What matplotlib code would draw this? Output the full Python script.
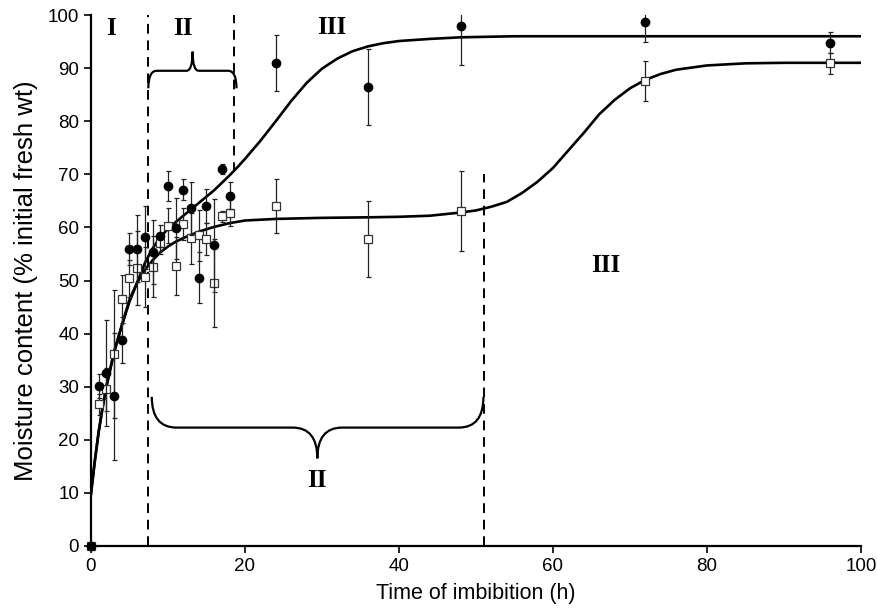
import numpy as np
import matplotlib
matplotlib.use('Agg')
import matplotlib.pyplot as plt
from matplotlib.path import Path
from matplotlib.patches import PathPatch

# Sampling times (h)
t_obs = [0, 1, 2, 3, 4, 5, 6, 7, 8, 9, 10, 11, 12, 13, 14, 15, 16, 17, 18, 24, 36, 48, 72, 96]

# Filled circles
circ_y = [0, 30.1, 32.6, 28.2, 38.8, 56.0, 56.0, 58.1, 55.4, 58.4, 67.8, 59.8, 67.1, 63.6,
          50.5, 64.1, 56.6, 71.0, 66.0, 90.9, 86.4, 98.0, 98.7, 94.8]
circ_err = [0, 2.3, 10, 12, 4.4, 3, 6.3, 6, 6, 2, 2.8, 5.8, 2, 5, 4.8, 3.2, 8.7, 1, 2.6,
            5.3, 7.2, 7.5, 3.7, 2]

# Open squares
sq_y = [0, 26.7, 29.5, 36.2, 46.5, 50.4, 52.4, 50.7, 52.6, 57.0, 60.3, 52.7, 60.6, 58.0,
        58.5, 57.8, 49.6, 62.1, 62.8, 64.1, 57.8, 63.1, 87.6, 90.9]
sq_err = [0, 2, 4, 12, 4.5, 3.5, 7, 5.6, 5.7, 2, 3.3, 5.4, 3, 4.8, 4.8, 3, 8.3, 1, 2.6,
          5.1, 7.2, 7.5, 3.8, 2]

# Fitted curves
fit_up_x = [0, 0.5, 1, 1.5, 2, 3, 4, 5, 6, 7, 8, 9, 10, 11, 12, 13, 14, 15, 16, 17, 18, 19,
            20, 22, 24, 26, 28, 30, 32, 34, 36, 38, 40, 44, 48, 55, 100]
fit_up_y = [9.8, 16, 21.5, 26, 30, 36.5, 41.5, 46, 49.6, 53.3, 56, 58.2, 59.7, 61, 62.2, 63.4,
            64.6, 65.8, 67, 68.4, 69.8, 71.3, 72.9, 76.3, 80, 83.8, 87.2, 89.9, 91.8, 93.2,
            94.1, 94.7, 95.1, 95.5, 95.8, 96, 96]
fit_lo_x = [0, 0.5, 1, 1.5, 2, 3, 4, 5, 6, 7, 8, 9, 10, 11, 12, 13, 14, 16, 18, 20, 24, 30,
            36, 40, 44, 48, 50, 52, 54, 56, 58, 60, 62, 64, 66, 68, 70, 72, 74, 76, 80, 85,
            90, 100]
fit_lo_y = [9.8, 16, 21.5, 26, 30, 36.5, 41.5, 46.4, 49.6, 52, 53.8, 55.3, 56.4, 57.3, 58.0,
            58.6, 59.2, 60.1, 60.8, 61.3, 61.6, 61.8, 61.9, 62.0, 62.2, 62.8, 63.2, 63.9,
            64.8, 66.5, 68.6, 71.2, 74.5, 77.8, 81.3, 84.0, 86.2, 87.8, 88.9, 89.7, 90.5,
            90.9, 91.0, 91.0]


def brace(ax, x0, x1, xtip, yend, yflat, ytip, dx_end, dx_tip):
    verts = [(x0, yend), (x0, yflat), (x0 + dx_end, yflat),
             (xtip - dx_tip, yflat), (xtip, yflat), (xtip, ytip),
             (xtip, yflat), (xtip + dx_tip, yflat),
             (x1 - dx_end, yflat), (x1, yflat), (x1, yend)]
    codes = [Path.MOVETO, Path.CURVE3, Path.CURVE3,
             Path.LINETO, Path.CURVE3, Path.CURVE3,
             Path.CURVE3, Path.CURVE3,
             Path.LINETO, Path.CURVE3, Path.CURVE3]
    ax.add_patch(PathPatch(Path(verts, codes), fill=False, lw=1.6, color='black'))


fig = plt.figure(figsize=(8.78, 6.13), dpi=100)
ax = fig.add_axes([0.1036, 0.1093, 0.877, 0.8662])

ax.plot(fit_up_x, fit_up_y, color='black', lw=1.9, zorder=3)
ax.plot(fit_lo_x, fit_lo_y, color='black', lw=1.9, zorder=3)

sq = ax.errorbar(t_obs, sq_y, yerr=sq_err, fmt='s', ms=5.5, mfc='white', mec='#333333',
                 mew=0.9, ecolor='#222222', elinewidth=0.9, capsize=1.8, capthick=0.9, zorder=4)
ci = ax.errorbar(t_obs, circ_y, yerr=circ_err, fmt='o', ms=6, color='black', ecolor='#222222',
                 elinewidth=0.9, capsize=1.8, capthick=0.9, zorder=5)
# let the markers at the origin show in full
sq[0].set_clip_on(False)
ci[0].set_clip_on(False)

# phase boundaries
ax.plot([7.4, 7.4], [0, 100], color='black', lw=1.4, ls=(0, (5, 3.5)))
ax.plot([18.6, 18.6], [70.5, 100], color='black', lw=1.4, ls=(0, (5, 3.5)))
ax.plot([51.1, 51.1], [0, 70], color='black', lw=1.4, ls=(0, (5, 3.5)))

brace(ax, 7.45, 18.9, 13.2, 86.2, 89.5, 93.1, 1.1, 0.8)
brace(ax, 7.9, 50.97, 29.4, 28.1, 22.3, 16.5, 3.2, 3.2)

rom = dict(family='Liberation Serif', fontweight='bold', fontsize=18, ha='center', va='center')
ax.text(2.55, 97.4, 'I', **rom)
ax.text(11.9, 97.4, 'II', **rom)
ax.text(31.3, 97.6, 'III', **rom)
ax.text(66.8, 52.9, 'III', **rom)
ax.text(29.4, 12.4, 'II', **rom)

ax.set_xlim(0, 100)
ax.set_ylim(0, 100)
ax.set_xticks(np.arange(0, 101, 20))
ax.set_yticks(np.arange(0, 101, 10))
for s in ['top', 'right']:
    ax.spines[s].set_visible(False)
for s in ['left', 'bottom']:
    ax.spines[s].set_linewidth(1.6)
ax.tick_params(axis='both', direction='out', length=5, width=1.2, labelsize=13.5)
for lab in ax.get_xticklabels() + ax.get_yticklabels():
    lab.set_family('Liberation Sans')
ax.set_xlabel('Time of imbibition (h)', fontsize=15.5, family='Liberation Sans', labelpad=6)
ax.set_ylabel('Moisture content (% initial fresh wt)', fontsize=18.5, family='Liberation Sans',
              labelpad=7)

plt.savefig('out.png', dpi=100)
